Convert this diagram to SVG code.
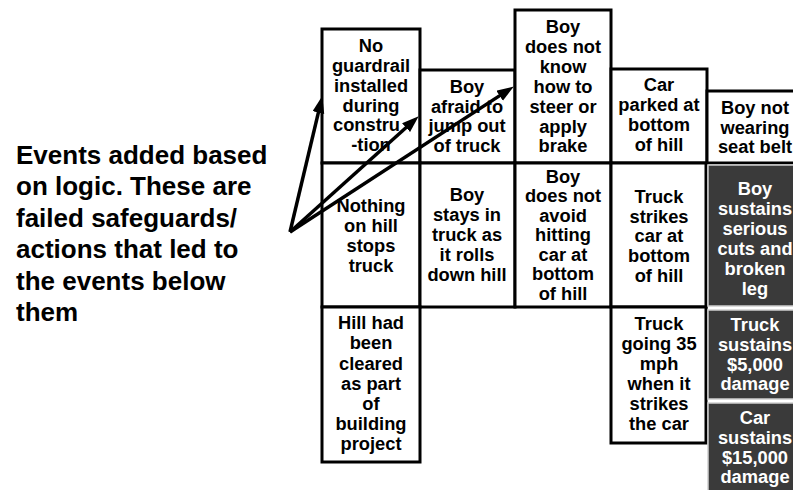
<svg xmlns="http://www.w3.org/2000/svg" width="793" height="490" viewBox="0 0 793 490">
  <style>
    .box { fill: #ffffff; stroke: #000000; stroke-width: 3; }
    .dark { fill: #3a3a3a; stroke: #cfcfcf; stroke-width: 1.5; }
    .t { font-family: "Liberation Sans", Arial, sans-serif; font-weight: bold; font-size: 18.3px; fill: #000000; text-anchor: middle; }
    .tw { font-family: "Liberation Sans", Arial, sans-serif; font-weight: bold; font-size: 18.3px; fill: #ffffff; text-anchor: middle; }
    .note { font-family: "Liberation Sans", Arial, sans-serif; font-weight: bold; font-size: 26px; fill: #000000; }
    .arrow { fill: none; stroke: #000000; stroke-width: 3.5; }
  </style>
  <defs>
    <marker id="head" markerUnits="userSpaceOnUse" markerWidth="18" markerHeight="13" refX="8" refY="6" orient="auto">
      <path d="M0,0 L17,6 L0,12 z" fill="#000000"/>
    </marker>
  </defs>
  <rect width="793" height="490" fill="#ffffff"/>

  <!-- explanatory note -->
  <g id="note">
    <text class="note" x="16" y="164">Events added based</text>
    <text class="note" x="16" y="195">on logic. These are</text>
    <text class="note" x="16" y="226.5">failed safeguards/</text>
    <text class="note" x="16" y="258">actions that led to</text>
    <text class="note" x="16" y="289.5">the events below</text>
    <text class="note" x="16" y="321">them</text>
  </g>

  <!-- top row: failed safeguards -->
  <g id="no-guardrail">
    <rect class="box" x="322" y="29" width="98" height="134"/>
    <text class="t" x="371" y="52">No</text>
    <text class="t" x="371" y="72">guardrail</text>
    <text class="t" x="371" y="92">installed</text>
    <text class="t" x="371" y="112">during</text>
    <text class="t" x="333" y="131" style="text-anchor:start">constru</text>
    <text class="t" x="371" y="151">-tion</text>
  </g>
  <g id="boy-afraid">
    <rect class="box" x="420" y="70" width="95" height="93"/>
    <text class="t" x="467" y="93">Boy</text>
    <text class="t" x="467" y="112.5">afraid to</text>
    <text class="t" x="467" y="132">jump out</text>
    <text class="t" x="467" y="152">of truck</text>
  </g>
  <g id="boy-cannot-steer">
    <rect class="box" x="515" y="10" width="96" height="153"/>
    <text class="t" x="563" y="33">Boy</text>
    <text class="t" x="563" y="53">does not</text>
    <text class="t" x="563" y="73">know</text>
    <text class="t" x="563" y="93">how to</text>
    <text class="t" x="563" y="113">steer or</text>
    <text class="t" x="563" y="132.5">apply</text>
    <text class="t" x="563" y="152">brake</text>
  </g>
  <g id="car-parked">
    <rect class="box" x="611" y="69" width="96" height="94"/>
    <text class="t" x="659" y="91">Car</text>
    <text class="t" x="659" y="111">parked at</text>
    <text class="t" x="659" y="131">bottom</text>
    <text class="t" x="659" y="151">of hill</text>
  </g>
  <g id="no-seat-belt">
    <rect class="box" x="707" y="91" width="100" height="72"/>
    <text class="t" x="755" y="114">Boy not</text>
    <text class="t" x="755" y="133.5">wearing</text>
    <text class="t" x="755" y="153">seat belt</text>
  </g>

  <!-- middle row: events -->
  <g id="nothing-stops-truck">
    <rect class="box" x="322" y="163" width="98" height="144"/>
    <text class="t" x="371" y="212">Nothing</text>
    <text class="t" x="371" y="232">on hill</text>
    <text class="t" x="371" y="252">stops</text>
    <text class="t" x="371" y="272">truck</text>
  </g>
  <g id="boy-stays">
    <rect class="box" x="420" y="163" width="95" height="144"/>
    <text class="t" x="467" y="201">Boy</text>
    <text class="t" x="467" y="221">stays in</text>
    <text class="t" x="467" y="241">truck as</text>
    <text class="t" x="467" y="261">it rolls</text>
    <text class="t" x="467" y="281">down hill</text>
  </g>
  <g id="boy-does-not-avoid">
    <rect class="box" x="515" y="163" width="96" height="144"/>
    <text class="t" x="563" y="183">Boy</text>
    <text class="t" x="563" y="202">does not</text>
    <text class="t" x="563" y="221.5">avoid</text>
    <text class="t" x="563" y="241">hitting</text>
    <text class="t" x="563" y="260.5">car at</text>
    <text class="t" x="563" y="280">bottom</text>
    <text class="t" x="563" y="299.5">of hill</text>
  </g>
  <g id="truck-strikes-car">
    <rect class="box" x="611" y="163" width="95" height="144"/>
    <text class="t" x="659" y="203">Truck</text>
    <text class="t" x="659" y="223">strikes</text>
    <text class="t" x="659" y="242">car at</text>
    <text class="t" x="659" y="262">bottom</text>
    <text class="t" x="659" y="282">of hill</text>
  </g>

  <!-- bottom row: conditions -->
  <g id="hill-cleared">
    <rect class="box" x="322" y="307" width="98" height="155"/>
    <text class="t" x="371" y="329">Hill had</text>
    <text class="t" x="371" y="349">been</text>
    <text class="t" x="371" y="369.5">cleared</text>
    <text class="t" x="371" y="389.5">as part</text>
    <text class="t" x="371" y="409.5">of</text>
    <text class="t" x="371" y="429.5">building</text>
    <text class="t" x="371" y="449.5">project</text>
  </g>
  <g id="truck-speed">
    <rect class="box" x="611" y="307" width="95" height="136"/>
    <text class="t" x="659" y="330">Truck</text>
    <text class="t" x="659" y="350">going 35</text>
    <text class="t" x="659" y="370">mph</text>
    <text class="t" x="659" y="390">when it</text>
    <text class="t" x="659" y="410">strikes</text>
    <text class="t" x="659" y="430">the car</text>
  </g>

  <!-- consequences -->
  <g id="boy-injured">
    <rect class="dark" x="708" y="165" width="100" height="141"/>
    <text class="tw" x="755" y="195">Boy</text>
    <text class="tw" x="755" y="215">sustains</text>
    <text class="tw" x="755" y="235">serious</text>
    <text class="tw" x="755" y="255">cuts and</text>
    <text class="tw" x="755" y="275">broken</text>
    <text class="tw" x="755" y="295">leg</text>
  </g>
  <g id="truck-damage">
    <rect class="dark" x="708" y="310" width="100" height="89"/>
    <text class="tw" x="755" y="331">Truck</text>
    <text class="tw" x="755" y="351">sustains</text>
    <text class="tw" x="755" y="371">$5,000</text>
    <text class="tw" x="755" y="390">damage</text>
  </g>
  <g id="car-damage">
    <rect class="dark" x="708" y="403" width="100" height="100"/>
    <text class="tw" x="755" y="423.5">Car</text>
    <text class="tw" x="755" y="443.5">sustains</text>
    <text class="tw" x="755" y="463.5">$15,000</text>
    <text class="tw" x="755" y="483">damage</text>
  </g>

  <!-- connectors from the note to the added events -->
  <g id="connectors">
    <path class="arrow" d="M290,232 L320.2,104.8" marker-end="url(#head)"/>
    <path class="arrow" d="M290,232 L412,122.3" marker-end="url(#head)"/>
    <path class="arrow" d="M290,232 L506.3,91.4" marker-end="url(#head)"/>
  </g>
</svg>
